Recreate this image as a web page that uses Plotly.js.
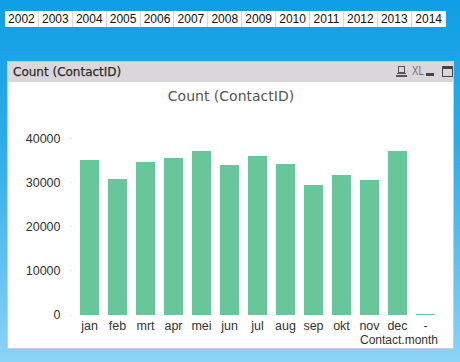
<!DOCTYPE html>
<html>
<head>
<meta charset="utf-8">
<script src="https://cdn.plot.ly/plotly-3.0.1.min.js"></script>
<style>
  html, body { margin:0; padding:0; width:460px; height:362px; overflow:hidden; }
  body { position:relative; background: linear-gradient(to bottom, #0f9fe6 0%, #2eace9 40%, #6cc6f3 80%, #8cd3f8 100%); font-family:"Liberation Sans", Arial, sans-serif; }
  #tabs { position:absolute; left:5px; top:11px; height:16px; display:flex; background:#fff; border-radius:1px; }
  #tabs div { width:33.9px; height:16px; box-sizing:border-box; border-right:1px solid #d8d8d8; font-size:12px; line-height:16px; text-align:center; color:#111; }
  #tabs div:last-child { border-right:none; }
  #win { position:absolute; left:7px; top:61px; width:447px; height:288px; box-sizing:border-box; border:1px solid #cfcdd3; background:#fff; }
  #bar { position:absolute; left:0; top:0; right:0; height:20px; background:#dad6da; }
  #bar .t { position:absolute; left:5px; top:2px; font-family:"DejaVu Sans", sans-serif; font-size:12px; color:#2e2e2e; line-height:16px; -webkit-text-stroke:0.25px #2e2e2e; }
  #chart { position:absolute; left:0; top:0; width:460px; height:362px; }
  .ic { position:absolute; }
</style>
</head>
<body>
<div id="tabs"></div>
<div id="win">
  <div id="bar">
    <span class="t">Count (ContactID)</span>
    <div class="ic" style="left:390px;top:4px;width:7px;height:7px;border:1.5px solid #555;box-sizing:border-box;"></div>
    <div class="ic" style="left:389px;top:11px;width:9px;height:1px;background:#555;"></div>
    <div class="ic" style="left:388px;top:13px;width:11px;height:2px;background:#555;"></div>
    <div class="ic" style="left:404px;top:2px;font-size:12px;line-height:15px;color:#6e6e6e;transform:scaleX(0.8);transform-origin:left;">XL</div>
    <div class="ic" style="left:418px;top:11px;width:8px;height:3px;background:#444;"></div>
    <div class="ic" style="left:434px;top:4px;width:11px;height:11px;border:1.5px solid #444;border-top:3px solid #444;box-sizing:border-box;"></div>
  </div>
</div>
<div id="chart"></div>
<script>
const years = ['2002','2003','2004','2005','2006','2007','2008','2009','2010','2011','2012','2013','2014'];
const months = ['jan','feb','mrt','apr','mei','jun','jul','aug','sep','okt','nov','dec','-'];
const counts = [35150, 30840, 34690, 35600, 37190, 34010, 36050, 34240, 29480, 31750, 30610, 37190, 250];
const yTicks = [0, 10000, 20000, 30000, 40000];

const tabs = document.getElementById('tabs');
years.forEach(y => { const d = document.createElement('div'); d.textContent = y; tabs.appendChild(d); });

const data = [{
  type: 'bar',
  x: months,
  y: counts,
  marker: { color: '#67c79a' },
  hoverinfo: 'none'
}];

const tickFont = { family: 'Liberation Sans, Arial, sans-serif', size: 12.5, color: '#333' };

const layout = {
  width: 460, height: 362,
  paper_bgcolor: 'rgba(0,0,0,0)',
  plot_bgcolor: 'rgba(0,0,0,0)',
  margin: { l: 72, r: 20, t: 130, b: 47, pad: 0 },
  bargap: 0.32,
  showlegend: false,
  title: {
    text: 'Count (ContactID)',
    font: { family: 'DejaVu Sans, sans-serif', size: 14, color: '#555' },
    x: 231/460, xanchor: 'center', xref: 'container',
    y: 1 - 96/362, yanchor: 'middle', yref: 'container'
  },
  xaxis: {
    type: 'category',
    range: [-0.625, 12.518],
    showgrid: false, zeroline: false, showline: false,
    ticks: '',
    tickfont: tickFont,
    ticklabelstandoff: 1
  },
  yaxis: {
    range: [0, 41950],
    tickvals: yTicks,
    ticktext: yTicks.map(String),
    showgrid: false, zeroline: false, showline: false,
    ticks: 'outside', ticklen: 1, tickwidth: 1, tickcolor: '#c8c8c8',
    tickfont: tickFont,
    ticklabelstandoff: 7
  },
  annotations: [{
    text: 'Contact.month',
    xref: 'paper', yref: 'paper',
    x: 1, xanchor: 'right',
    y: -25/185, yanchor: 'middle',
    showarrow: false,
    font: { family: 'Liberation Sans, Arial, sans-serif', size: 12, color: '#333' }
  }]
};

Plotly.newPlot('chart', data, layout, { displayModeBar: false, staticPlot: true });
</script>
</body>
</html>
